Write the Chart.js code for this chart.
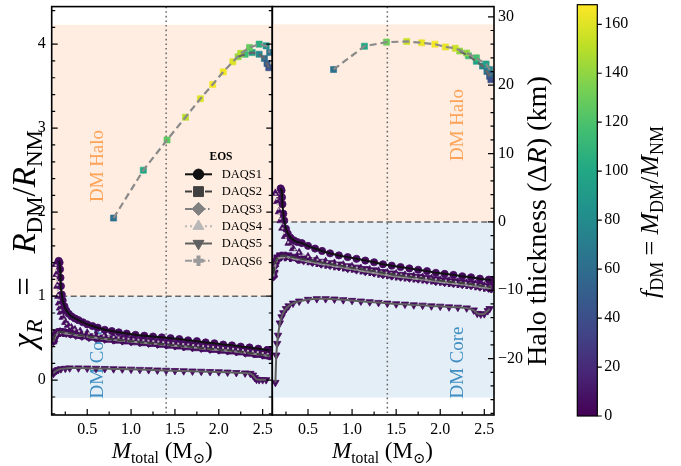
<!DOCTYPE html>
<html><head><meta charset="utf-8">
<script src="https://cdn.jsdelivr.net/npm/chart.js@4.4.1/dist/chart.umd.min.js"></script>
<style>
html,body{margin:0;padding:0;background:#fff;}
#wrap{position:relative;width:681px;height:466px;overflow:hidden;}
canvas{position:absolute;left:0;top:0;}
</style></head><body><div id="wrap">
<canvas id="cL" width="681" height="466"></canvas>
<canvas id="cR" width="681" height="466"></canvas>
<canvas id="cC" width="681" height="466"></canvas>
</div>
<script>
// ---------------- DATA ----------------
const EOS_NAMES = ['DAQS1','DAQS2','DAQS3','DAQS4','DAQS5','DAQS6'];
const LEGEND_TITLE = 'EOS';
const F_MAX = 168;
const CORE_F = 5;               // f_DM of the (purple) core-branch markers
const M_DM_SPLIT = 1.4;         // vertical dotted line

const xTicks = [0.5, 1.0, 1.5, 2.0, 2.5];
const xTickLabels = ['0.5', '1.0', '1.5', '2.0', '2.5'];
const yTicksL = [0, 1, 2, 3, 4];
const yTickLabelsL = ['0', '1', '2', '3', '4'];
const yTicksR = [-20, -10, 0, 10, 20, 30];
const yTickLabelsR = ['\u221220', '\u221210', '0', '10', '20', '30'];
const cbTicks = [0, 20, 40, 60, 80, 100, 120, 140, 160];
const cbTickLabels = ['0', '20', '40', '60', '80', '100', '120', '140', '160'];

// Left panel: chi_R = R_DM / R_NM
const L_DAQS1_M = [0.175,0.185,0.19,0.195,0.2,0.21,0.22,0.24,0.26,0.29,0.32,0.36,0.40,0.45,0.5,0.56,0.62,0.7,0.78,0.86,0.95,1.05,1.15,1.25,1.35,1.45,1.55,1.65,1.75,1.85,1.95,2.05,2.15,2.25,2.35,2.45,2.55,2.58];
const L_DAQS1_CHI = [1.42,1.40,1.32,1.22,1.12,1.02,0.95,0.88,0.83,0.79,0.76,0.735,0.715,0.69,0.665,0.645,0.625,0.60,0.585,0.57,0.555,0.54,0.53,0.52,0.51,0.50,0.49,0.475,0.465,0.45,0.44,0.425,0.415,0.40,0.39,0.375,0.36,0.355];
const L_DAQS2_M = [0.115,0.13,0.15,0.18,0.22,0.28,0.35,0.45,0.55,0.65,0.75,0.85,0.95,1.05,1.15,1.25,1.35,1.45,1.55,1.65,1.75,1.85,1.95,2.05,2.15,2.25,2.35,2.45,2.55,2.58];
const L_DAQS2_CHI = [0.47,0.53,0.56,0.575,0.575,0.565,0.55,0.53,0.515,0.50,0.49,0.48,0.47,0.46,0.45,0.44,0.43,0.42,0.41,0.40,0.39,0.38,0.37,0.36,0.35,0.34,0.325,0.31,0.295,0.29];
const L_DAQS3_M = [0.115,0.13,0.15,0.17,0.19,0.22,0.26,0.31,0.37,0.44,0.52,0.6,0.7,0.8,0.9,1.0,1.1,1.2,1.3,1.4,1.5,1.6,1.7,1.8,1.9,2.0,2.1,2.2,2.3,2.4,2.5,2.58];
const L_DAQS3_CHI = [0.46,0.52,0.555,0.57,0.575,0.57,0.56,0.55,0.535,0.525,0.51,0.50,0.49,0.48,0.47,0.46,0.45,0.44,0.43,0.42,0.41,0.40,0.39,0.38,0.37,0.36,0.35,0.34,0.325,0.315,0.30,0.29];
const L_DAQS4_M = [0.14,0.15,0.16,0.17,0.18,0.19,0.2,0.22,0.25,0.28,0.32,0.36,0.42,0.5,0.6,0.7,0.8,0.9,1.0,1.1,1.2,1.3,1.4,1.5,1.6,1.7,1.8,1.9,2.0,2.1,2.2,2.3,2.4,2.5,2.58];
const L_DAQS4_CHI = [1.38,1.26,1.12,1.0,0.92,0.86,0.81,0.75,0.69,0.655,0.625,0.60,0.58,0.56,0.545,0.53,0.515,0.50,0.49,0.48,0.47,0.46,0.45,0.44,0.43,0.42,0.41,0.40,0.39,0.38,0.37,0.355,0.34,0.325,0.31];
const L_DAQS5_M = [0.115,0.13,0.15,0.17,0.2,0.25,0.3,0.4,0.5,0.6,0.7,0.8,0.9,1.0,1.1,1.2,1.3,1.4,1.5,1.6,1.7,1.8,1.9,2.0,2.1,2.2,2.3,2.36,2.39,2.41,2.43,2.46,2.5,2.54];
const L_DAQS5_CHI = [0.08,0.1,0.115,0.125,0.135,0.14,0.145,0.145,0.143,0.14,0.138,0.135,0.133,0.13,0.127,0.124,0.12,0.117,0.114,0.111,0.108,0.105,0.102,0.099,0.095,0.09,0.085,0.08,0.06,0.03,0.01,0.005,0.005,0.005];
const L_DAQS6_M = [0.12,0.14,0.16,0.19,0.23,0.3,0.4,0.5,0.6,0.7,0.8,0.9,1.0,1.1,1.2,1.3,1.4,1.5,1.6,1.7,1.8,1.9,2.0,2.1,2.2,2.3,2.4,2.5,2.58];
const L_DAQS6_CHI = [0.48,0.53,0.55,0.56,0.56,0.55,0.535,0.52,0.505,0.49,0.48,0.47,0.46,0.45,0.44,0.43,0.42,0.41,0.40,0.39,0.38,0.37,0.36,0.35,0.34,0.33,0.315,0.30,0.285];
const L_HALO_M = [0.80,1.14,1.41,1.62,1.79,1.93,2.05,2.16,2.25,2.35,2.46,2.54,2.58];
const L_HALO_CHI = [1.93,2.50,2.86,3.13,3.35,3.52,3.67,3.79,3.89,3.96,4.00,3.98,3.90];
const L_HALO_F = [62,100,126,150,160,166,165,160,148,128,105,85,65];
const L_TAIL_M = [2.22,2.30,2.38,2.46,2.52,2.55,2.57];
const L_TAIL_CHI = [3.85,3.88,3.90,3.88,3.83,3.77,3.72];
const L_TAIL_F = [140,115,95,78,62,50,42];

// Right panel: halo thickness Delta R (km)
const R_DAQS1_M = [0.19,0.2,0.205,0.21,0.22,0.23,0.25,0.27,0.3,0.34,0.38,0.43,0.5,0.58,0.66,0.75,0.85,0.95,1.05,1.15,1.25,1.35,1.45,1.55,1.65,1.75,1.85,1.95,2.05,2.15,2.25,2.35,2.45,2.55,2.58];
const R_DAQS1_DR = [4.9,4.6,3.6,2.6,1.2,0.2,-1.0,-1.7,-2.3,-2.7,-2.95,-3.1,-3.5,-3.9,-4.25,-4.6,-4.9,-5.15,-5.4,-5.65,-5.9,-6.2,-6.4,-6.6,-6.8,-7.0,-7.2,-7.45,-7.6,-7.75,-7.95,-8.1,-8.3,-8.45,-8.5];
const R_DAQS2_M = [0.11,0.125,0.15,0.18,0.22,0.28,0.35,0.45,0.55,0.65,0.75,0.85,0.95,1.05,1.15,1.25,1.35,1.45,1.55,1.65,1.75,1.85,1.95,2.05,2.15,2.25,2.35,2.45,2.55,2.58];
const R_DAQS2_DR = [-7.6,-6.0,-5.3,-5.0,-4.9,-5.0,-5.2,-5.45,-5.7,-5.95,-6.15,-6.35,-6.6,-6.8,-7.0,-7.2,-7.45,-7.65,-7.85,-8.0,-8.15,-8.3,-8.5,-8.65,-8.8,-8.95,-9.1,-9.3,-9.5,-9.55];
const R_DAQS3_M = [0.11,0.12,0.14,0.17,0.2,0.25,0.3,0.38,0.45,0.55,0.65,0.75,0.85,0.95,1.05,1.15,1.25,1.35,1.45,1.55,1.65,1.75,1.85,1.95,2.05,2.15,2.25,2.35,2.45,2.55,2.58];
const R_DAQS3_DR = [-8.0,-6.5,-5.6,-5.2,-5.05,-5.05,-5.2,-5.45,-5.65,-5.9,-6.15,-6.35,-6.55,-6.8,-7.0,-7.25,-7.45,-7.7,-7.9,-8.05,-8.2,-8.35,-8.5,-8.7,-8.85,-9.0,-9.15,-9.3,-9.5,-9.7,-9.75];
const R_DAQS4_M = [0.13,0.15,0.17,0.19,0.21,0.24,0.28,0.33,0.4,0.5,0.6,0.7,0.8,0.9,1.0,1.1,1.2,1.3,1.4,1.5,1.6,1.7,1.8,1.9,2.0,2.1,2.2,2.3,2.4,2.5,2.58];
const R_DAQS4_DR = [4.2,3.0,1.5,0.2,-0.9,-2.1,-3.1,-3.9,-4.5,-5.1,-5.5,-5.8,-6.05,-6.3,-6.55,-6.8,-7.0,-7.2,-7.45,-7.6,-7.8,-7.95,-8.1,-8.3,-8.5,-8.65,-8.8,-8.95,-9.1,-9.35,-9.5];
const R_DAQS5_M = [0.13,0.14,0.15,0.16,0.18,0.2,0.22,0.25,0.28,0.33,0.4,0.5,0.6,0.7,0.8,0.9,1.0,1.1,1.2,1.3,1.4,1.5,1.6,1.7,1.8,1.9,2.0,2.1,2.2,2.3,2.38,2.42,2.46,2.5,2.54,2.56];
const R_DAQS5_DR = [-23.5,-19.5,-17.8,-16.6,-14.8,-13.9,-13.3,-12.7,-12.3,-11.9,-11.6,-11.35,-11.25,-11.25,-11.3,-11.4,-11.5,-11.6,-11.7,-11.8,-11.9,-12.0,-12.05,-12.15,-12.2,-12.3,-12.35,-12.45,-12.5,-12.6,-12.9,-13.4,-13.5,-13.45,-13.0,-12.7];
const R_DAQS6_M = [0.12,0.135,0.16,0.19,0.24,0.3,0.4,0.5,0.6,0.7,0.8,0.9,1.0,1.1,1.2,1.3,1.4,1.5,1.6,1.7,1.8,1.9,2.0,2.1,2.2,2.3,2.4,2.5,2.58];
const R_DAQS6_DR = [-7.2,-6.0,-5.4,-5.2,-5.2,-5.3,-5.55,-5.8,-6.05,-6.3,-6.5,-6.7,-6.9,-7.15,-7.35,-7.6,-7.8,-8.0,-8.15,-8.3,-8.45,-8.6,-8.8,-8.95,-9.1,-9.25,-9.45,-9.65,-9.8];
const R_HALO_M = [0.79,1.14,1.39,1.62,1.79,1.94,2.06,2.17,2.30,2.41,2.52,2.56,2.58];
const R_HALO_DR = [22.3,25.7,26.3,26.4,26.2,26.0,25.6,25.4,24.7,24.0,23.1,22.3,21.6];
const R_HALO_F = [62,100,130,155,163,166,162,155,140,118,95,75,55];
const R_TAIL_M = [2.22,2.32,2.41,2.48,2.53,2.56,2.575];
const R_TAIL_DR = [25.0,24.3,23.5,22.8,22.0,21.3,20.8];
const R_TAIL_F = [140,115,95,78,62,50,40];

// ---------------- STYLE ----------------
const FONT = '"Liberation Serif", "DejaVu Serif", serif';
Chart.defaults.font.family = FONT;
Chart.defaults.color = '#000';
const EOS_STYLE = {
  DAQS1:{color:'#111111', dash:[], marker:'circle', rot:0, r:3.6, legR:5.2},
  DAQS2:{color:'#404040', dash:[7,3], marker:'rect', rot:0, r:4.6, legR:7},
  DAQS3:{color:'#808080', dash:[7,2.5,1.5,2.5], marker:'rectRot', rot:0, r:4.3, legR:6.5},
  DAQS4:{color:'#b8b8b8', dash:[2,3], marker:'triangle', rot:0, r:4.3, legR:6.3},
  DAQS5:{color:'#606060', dash:[], marker:'triangle', rot:180, r:4.3, legR:6.3},
  DAQS6:{color:'#9a9a9a', dash:[7,2.5,1.5,2.5], marker:'cross', rot:0, r:3.8, legR:5.2}
};
const HALO_LINE = '#8a8a8a';
const ORANGE_BG = 'rgb(254,237,224)';
const BLUE_BG = 'rgb(228,238,246)';
const ORANGE_TXT = 'rgb(255,163,88)';
const BLUE_TXT = 'rgb(62,142,196)';
const AREA_L = {l:51.7, r:272.3, t:4.5, b:415};
const AREA_R = {l:272.3, r:494, t:4.5, b:415};
const AREA_C = {l:577.3, r:597.3, t:4.7, b:416};
const W = 681, H = 466;
const TICK_FONT = {family: FONT, size: 16};

const VIRIDIS = ['#440154','#482475','#414487','#355f8d','#2a788e','#21918c','#22a884','#44bf70','#7ad151','#bddf26','#fde725'];
function hex(h){return [parseInt(h.substr(1,2),16),parseInt(h.substr(3,2),16),parseInt(h.substr(5,2),16)];}
function viridis(t){
  t = Math.max(0, Math.min(1, t)); const n = VIRIDIS.length - 1;
  const i = Math.min(n - 1, Math.floor(t * n)); const f = t * n - i;
  const a = hex(VIRIDIS[i]), b = hex(VIRIDIS[i + 1]);
  return `rgb(${Math.round(a[0]+(b[0]-a[0])*f)},${Math.round(a[1]+(b[1]-a[1])*f)},${Math.round(a[2]+(b[2]-a[2])*f)})`;
}

// rich text: segments {t, s, it, dy, flex}. If flex segments exist, extra length goes into them; else font is scaled.
function drawRich(ctx, segs, x, y, rot, len, color){
  ctx.save();
  ctx.translate(x, y); ctx.rotate(rot);
  ctx.fillStyle = color || '#000';
  ctx.textBaseline = 'alphabetic'; ctx.textAlign = 'left';
  const font = (s, k) => `${s.it ? 'italic ' : ''}${(s.s * k).toFixed(2)}px ${FONT}`;
  let w = 0; const nflex = segs.filter(s => s.flex).length;
  segs.forEach(s => { if (s.flex) return; ctx.font = font(s, 1); w += ctx.measureText(s.t).width; });
  let k = 1, gap = 0;
  if (len) { if (nflex) gap = Math.max(0, (len - w) / nflex); else k = len / w; }
  let cx = -(w * k + gap * nflex) / 2;
  segs.forEach(s => {
    if (s.flex) { cx += gap; return; }
    ctx.font = font(s, k); ctx.fillText(s.t, cx, (s.dy || 0) * k); cx += ctx.measureText(s.t).width;
  });
  ctx.restore();
}

function series(eos, m, v){ return {eos, m, v}; }
const LEFT_SERIES = [series('DAQS1',L_DAQS1_M,L_DAQS1_CHI), series('DAQS2',L_DAQS2_M,L_DAQS2_CHI), series('DAQS3',L_DAQS3_M,L_DAQS3_CHI),
  series('DAQS4',L_DAQS4_M,L_DAQS4_CHI), series('DAQS5',L_DAQS5_M,L_DAQS5_CHI), series('DAQS6',L_DAQS6_M,L_DAQS6_CHI)];
const RIGHT_SERIES = [series('DAQS1',R_DAQS1_M,R_DAQS1_DR), series('DAQS2',R_DAQS2_M,R_DAQS2_DR), series('DAQS3',R_DAQS3_M,R_DAQS3_DR),
  series('DAQS4',R_DAQS4_M,R_DAQS4_DR), series('DAQS5',R_DAQS5_M,R_DAQS5_DR), series('DAQS6',R_DAQS6_M,R_DAQS6_DR)];

function buildDatasets(list, halo, tail){
  const ds = [];
  const pts = (m, v) => m.map((x, i) => ({x, y: v[i]}));
  list.forEach(s => {
    const st = EOS_STYLE[s.eos];
    const col = viridis(CORE_F / F_MAX);
    const p = pts(s.m, s.v);
    ds.push({label: s.eos + ' (markers)', data: p, showLine: false, order: 3,
      pointStyle: st.marker, pointRotation: st.rot, pointRadius: st.r,
      pointBackgroundColor: col, pointBorderColor: col, pointBorderWidth: st.marker === 'cross' ? 2.6 : 0.8});
    ds.push({label: s.eos, data: p, showLine: true, order: 1, borderColor: st.color, borderDash: st.dash,
      borderWidth: 2, pointRadius: 0, fill: false, tension: 0});
  });
  [halo, tail].forEach((h, k) => {
    const p = pts(h.m, h.v);
    const fc = c => viridis((h.f[c.dataIndex] !== undefined ? h.f[c.dataIndex] : h.f[0]) / F_MAX);
    ds.push({label: 'halo' + k + ' (markers)', data: p, showLine: false, order: 3, pointStyle: 'rect', pointRadius: 4.3,
      pointBackgroundColor: fc, pointBorderColor: fc, pointBorderWidth: 0.6});
    ds.push({label: 'halo' + k, data: p, showLine: true, order: 1, borderColor: k ? '#666' : HALO_LINE, borderDash: [7,4],
      borderWidth: 2.2, pointRadius: 0, fill: false, tension: 0});
  });
  return ds;
}

function fixAxis(prop, val){
  return s => { s[prop] = val; s.paddingTop = 0; s.paddingBottom = 0; s.paddingLeft = 0; s.paddingRight = 0; };
}
function setTicks(vals){ return s => { s.ticks = vals.map(v => ({value: v})); }; }
function labelFor(vals, labels){ return v => { const i = vals.findIndex(t => Math.abs(t - v) < 1e-9); return i >= 0 ? labels[i] : ''; }; }

function drawTickSet(ctx, scale, vals, len, side, a){
  ctx.beginPath();
  vals.forEach(v => {
    const p = scale.getPixelForValue(v);
    if (side === 'bottom') { if (p < a.left + 0.5 || p > a.right - 0.5) return; ctx.moveTo(p, a.bottom); ctx.lineTo(p, a.bottom - len); }
    if (side === 'left') { if (p < a.top + 0.5 || p > a.bottom - 0.5) return; ctx.moveTo(a.left, p); ctx.lineTo(a.left + len, p); }
    if (side === 'right') { if (p < a.top + 0.5 || p > a.bottom - 0.5) return; ctx.moveTo(a.right, p); ctx.lineTo(a.right - len, p); }
    if (side === 'rightOut') { ctx.moveTo(a.right, p); ctx.lineTo(a.right + len, p); }
  });
  ctx.stroke();
}
function range(a, b, step){ const r = []; for (let v = a; v <= b + 1e-9; v += step) r.push(Math.round(v * 1000) / 1000); return r; }

function panelPlugin(isL){
  return {
    id: 'panel' + (isL ? 'L' : 'R'),
    beforeDatasetsDraw(chart){
      const {ctx, chartArea: a, scales: {x, y}} = chart;
      ctx.save();
      ctx.beginPath(); ctx.rect(a.left, a.top, a.width, a.height); ctx.clip();
      const sTop = isL ? 4.23 : 28.9, sMid = isL ? 1 : 0, sBot = isL ? -0.21 : -25.7;
      ctx.fillStyle = ORANGE_BG;
      ctx.fillRect(a.left, y.getPixelForValue(sTop), a.width, y.getPixelForValue(sMid) - y.getPixelForValue(sTop));
      ctx.fillStyle = BLUE_BG;
      ctx.fillRect(a.left, y.getPixelForValue(sMid), a.width, y.getPixelForValue(sBot) - y.getPixelForValue(sMid));
      const tx = isL ? 103.3 : 463.3;
      drawRich(ctx, [{t:'DM Halo', s:19}], tx, isL ? 166 : 125, -Math.PI/2, 72, ORANGE_TXT);
      drawRich(ctx, [{t:'DM Core', s:19}], tx, 362.5, -Math.PI/2, 72, BLUE_TXT);
      ctx.strokeStyle = '#666'; ctx.lineWidth = 1.5;
      ctx.setLineDash([6, 3.5]);
      ctx.beginPath(); const yh = y.getPixelForValue(sMid); ctx.moveTo(a.left, yh); ctx.lineTo(a.right, yh); ctx.stroke();
      ctx.setLineDash([1.6, 3]);
      ctx.beginPath(); const xv = x.getPixelForValue(M_DM_SPLIT); ctx.moveTo(xv, a.top); ctx.lineTo(xv, a.bottom); ctx.stroke();
      ctx.restore();
    },
    afterDraw(chart){
      const {ctx, chartArea: a, scales: {x, y}} = chart;
      ctx.save();
      ctx.strokeStyle = '#000'; ctx.lineWidth = 1.2; ctx.setLineDash([]);
      drawTickSet(ctx, x, xTicks, 6, 'bottom', a);
      drawTickSet(ctx, x, range(0.25, 2.5, 0.25).filter(v => !xTicks.includes(v)), 3.5, 'bottom', a);
      if (isL) {
        const minor = range(-0.4, 4.4, 0.2).filter(v => Math.abs(v - Math.round(v)) > 1e-6);
        drawTickSet(ctx, y, yTicksL, 6, 'left', a); drawTickSet(ctx, y, minor, 3.5, 'left', a);
        drawTickSet(ctx, y, yTicksL, 6, 'right', a); drawTickSet(ctx, y, minor, 3.5, 'right', a);
      } else {
        const minor = range(-28, 30, 2).filter(v => v % 10 !== 0);
        drawTickSet(ctx, y, yTicksR, 6, 'right', a); drawTickSet(ctx, y, minor, 3.5, 'right', a);
      }
      ctx.lineWidth = 1.6;
      ctx.strokeRect(a.left, a.top, a.width, a.height);
      ctx.restore();
      const xlab = [{t:'M', s:22, it:true}, {t:'total', s:15, dy:4.5}, {t:' (M', s:22}, {t:'\u2299', s:14, dy:4.5}, {t:')', s:22}];
      drawRich(ctx, xlab, isL ? 162.3 : 382.5, 458, 0, 101);
      if (isL) {
        drawRich(ctx, [{t:'\u03c7', s:33, it:true}, {t:'R', s:23, it:true, dy:6.5}, {flex:true}, {t:'=', s:33}, {flex:true},
          {t:'R', s:33, it:true}, {t:'DM', s:23, dy:6.5}, {t:'/', s:33}, {t:'R', s:33, it:true}, {t:'NM', s:23, dy:6.5}],
          35, 239, -Math.PI/2, 218);
        drawLegend(ctx);
      } else {
        drawRich(ctx, [{t:'Halo thickness (\u0394', s:22}, {t:'R', s:22, it:true}, {t:') (km)', s:22}], 546, 221, -Math.PI/2, 290);
      }
    }
  };
}

function drawLegend(ctx){
  ctx.save();
  ctx.fillStyle = '#000'; ctx.textAlign = 'center'; ctx.textBaseline = 'middle';
  ctx.font = `bold 11.5px ${FONT}`;
  ctx.fillText(LEGEND_TITLE, 221, 157);
  EOS_NAMES.forEach((n, i) => {
    const y = 174.3 + i * 17.3, st = EOS_STYLE[n];
    ctx.strokeStyle = st.color; ctx.lineWidth = 2; ctx.setLineDash(st.dash);
    ctx.beginPath(); ctx.moveTo(185, y); ctx.lineTo(212, y); ctx.stroke(); ctx.setLineDash([]);
    ctx.fillStyle = st.color; ctx.strokeStyle = st.color;
    const bw = st.marker === 'cross' ? 4 : 1;
    ctx.lineWidth = bw;
    Chart.helpers.drawPoint(ctx, {pointStyle: st.marker, rotation: st.rot, radius: st.legR, borderWidth: bw}, 198.5, y);
    ctx.fillStyle = '#000'; ctx.font = `12.5px ${FONT}`; ctx.textAlign = 'left';
    ctx.fillText(n, 221.7, y + 0.5);
  });
  ctx.restore();
}

function panelConfig(isL){
  const a = isL ? AREA_L : AREA_R;
  const yOpts = isL
    ? {min: -0.414, max: 4.447, vals: yTicksL, labels: yTickLabelsL}
    : {min: -28.25, max: 31.5, vals: yTicksR, labels: yTickLabelsR};
  const yAxisW = isL ? a.l : 40;
  return {
    type: 'scatter',
    data: {datasets: isL
      ? buildDatasets(LEFT_SERIES, {m:L_HALO_M, v:L_HALO_CHI, f:L_HALO_F}, {m:L_TAIL_M, v:L_TAIL_CHI, f:L_TAIL_F})
      : buildDatasets(RIGHT_SERIES, {m:R_HALO_M, v:R_HALO_DR, f:R_HALO_F}, {m:R_TAIL_M, v:R_TAIL_DR, f:R_TAIL_F})},
    options: {
      responsive: false, animation: false, devicePixelRatio: 1,
      layout: {padding: isL ? {left: 0, right: W - a.r, top: a.t, bottom: 0} : {left: a.l, right: W - a.r - yAxisW, top: a.t, bottom: 0}},
      plugins: {legend: {display: false}, tooltip: {enabled: false}},
      scales: {
        x: {type: 'linear', min: 0.095, max: 2.61, position: 'bottom',
          afterBuildTicks: setTicks(xTicks), afterFit: fixAxis('height', H - a.b),
          grid: {display: false, drawTicks: false}, border: {display: false},
          ticks: {callback: labelFor(xTicks, xTickLabels), autoSkip: false, maxRotation: 0, padding: 5, font: TICK_FONT, color: '#000'}},
        y: {type: 'linear', min: yOpts.min, max: yOpts.max, position: isL ? 'left' : 'right',
          afterBuildTicks: setTicks(yOpts.vals), afterFit: fixAxis('width', yAxisW),
          grid: {display: false, drawTicks: false}, border: {display: false},
          ticks: {callback: labelFor(yOpts.vals, yOpts.labels), autoSkip: false, padding: isL ? 6 : 4, font: TICK_FONT, color: '#000'}}
      }
    },
    plugins: [panelPlugin(isL)]
  };
}

new Chart(document.getElementById('cL'), panelConfig(true));
new Chart(document.getElementById('cR'), panelConfig(false));

// ---------------- COLORBAR ----------------
new Chart(document.getElementById('cC'), {
  type: 'scatter',
  data: {datasets: [{label: 'f_DM', data: [], showLine: false}]},
  options: {
    responsive: false, animation: false, devicePixelRatio: 1,
    layout: {padding: {left: AREA_C.l, right: W - AREA_C.r - 40, top: AREA_C.t, bottom: H - AREA_C.b}},
    plugins: {legend: {display: false}, tooltip: {enabled: false}},
    scales: {
      x: {display: false, min: 0, max: 1},
      y: {type: 'linear', min: 0, max: F_MAX, position: 'right',
        afterBuildTicks: setTicks(cbTicks), afterFit: fixAxis('width', 40),
        grid: {display: false, drawTicks: false}, border: {display: false},
        ticks: {callback: labelFor(cbTicks, cbTickLabels), autoSkip: false, padding: 7, font: TICK_FONT, color: '#000'}}
    }
  },
  plugins: [{
    id: 'cbar',
    beforeDatasetsDraw(chart){
      const {ctx, chartArea: a, scales: {y}} = chart;
      const g = ctx.createLinearGradient(0, a.bottom, 0, a.top);
      VIRIDIS.forEach((c, i) => g.addColorStop(i / (VIRIDIS.length - 1), c));
      ctx.save(); ctx.fillStyle = g; ctx.fillRect(a.left, a.top, a.width, a.height);
      ctx.strokeStyle = '#000'; ctx.lineWidth = 1.2; ctx.strokeRect(a.left, a.top, a.width, a.height);
      drawTickSet(ctx, y, cbTicks, 4.5, 'rightOut', a);
      ctx.restore();
      drawRich(ctx, [{t:'f', s:26, it:true}, {t:'DM', s:18, dy:5}, {flex:true}, {t:'=', s:26}, {flex:true}, {t:'M', s:26, it:true}, {t:'DM', s:18, dy:5},
        {t:'/', s:26}, {t:'M', s:26, it:true}, {t:'NM', s:18, dy:5}], 658, 212, -Math.PI/2, 172);
    }
  }]
});
</script></body></html>
